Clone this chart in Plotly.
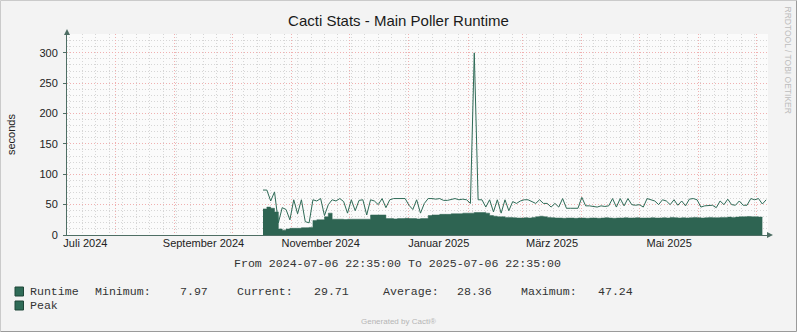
import plotly.graph_objects as go
import pandas as pd

# ---------------- data ----------------
range_start = "2024-07-06 22:35:00"
range_end = "2025-07-06 22:35:00"
series_start = "2024-10-17"
step_days = 2

runtime = [
    43, 46, 44, 38, 10, 8, 10, 11, 11, 11, 12, 12, 12.5,
    24, 25, 25, 30, 36, 26, 26, 26, 25.5, 26, 26, 26, 26, 26, 26,
    33, 33, 33, 33,
    27, 27, 26.5, 27, 27, 27.5, 27, 27, 26.5, 27, 27,
    32, 33, 33, 34, 34, 34, 35, 35, 35, 36, 36, 36, 37, 37, 37, 36,
    32, 31, 30, 30, 29, 29, 28.5,
    28, 28, 28.5, 28, 29, 30, 31, 30, 29, 28.5, 28, 28, 27.5, 28, 28,
    27.5, 28, 28, 27.5, 28, 28, 27.5, 28, 28.5, 28, 27.5, 28, 28, 28.5,
    28, 28, 28.5, 28, 28,
    28, 28.5, 28, 28, 28.5, 28, 29, 28.5, 28, 28.5, 28, 28.5, 29, 28.5,
    28, 28.5, 29, 28.5, 28.5, 29, 29, 29.5, 29, 29.5, 30, 30, 30.5, 30,
    30, 29.5, 29.71,
]

peak = [
    74, 74, 56, 71, 20, 45, 42, 25, 58, 35, 58, 22, 20, 58, 56, 60,
    32, 50, 58, 56, 60, 55, 36, 58, 40, 57, 58, 33, 58, 56, 50, 60,
    45, 58, 60, 60, 59, 60, 49, 42, 58, 36, 52, 60, 60, 59, 60, 57,
    57, 59, 60, 58, 59, 58, 52, 300, 58, 58, 46, 58, 38, 58, 36, 58,
    40, 55, 52,
    56, 58, 58, 55, 52, 58, 52, 52, 46, 52, 46, 60, 44, 44, 44, 44,
    62, 48, 48, 47, 46, 48, 47, 48, 60, 46, 60, 48, 60, 50, 49, 50,
    46, 60,
    58, 56, 50, 58, 56, 50, 58, 49, 56, 48, 59, 60, 58, 46, 48, 48,
    49, 45, 56, 50, 59, 50, 49, 56, 49, 49, 60, 58, 60, 51, 58,
]

month_label_dates = ["2024-07-16 12:00", "2024-09-16 00:00", "2024-11-16 00:00",
                     "2025-01-16 12:00", "2025-03-16 12:00", "2025-05-16 12:00"]
month_labels = ["Juli 2024", "September 2024", "November 2024",
                "Januar 2025", "März 2025", "Mai 2025"]

stat_names = ["Minimum:", "Current:", "Average:", "Maximum:"]
stat_values = ["7.97", "29.71", "28.36", "47.24"]

title = "Cacti Stats - Main Poller Runtime"
y_title = "seconds"

dates = pd.date_range(series_start, periods=len(peak), freq=f"{step_days}D")

# ---------------- style ----------------
W, H = 797, 332
L, R, T, B = 67, 29, 34, 97
PW = W - L - R
PH = H - T - B
AREA_COLOR = "#2E6452"
LINE_COLOR = "#2F6B57"
AXIS_COLOR = "#4E6E64"
MAJOR_GRID = "#F0B0B0"
MINOR_GRID = "#D6D6D6"
TXT = "#222222"
DOT = "1px,2px"


def px(x):
    return (x - L) / PW


def py(y):
    return (H - B - y) / PH


fig = go.Figure()
fig.add_trace(go.Scatter(
    x=dates[:len(runtime)], y=runtime, mode="lines",
    line=dict(color=AREA_COLOR, width=0.5, shape="hv"),
    fill="tozeroy", fillcolor=AREA_COLOR, name="Runtime", showlegend=False,
    hoverinfo="skip"))
fig.add_trace(go.Scatter(
    x=dates, y=peak, mode="lines", line=dict(color=LINE_COLOR, width=1),
    name="Peak", showlegend=False, xaxis="x2", hoverinfo="skip"))

fig.update_layout(
    width=W, height=H,
    margin=dict(l=L, r=R, t=T, b=B, pad=0),
    paper_bgcolor="#F3F3F3",
    plot_bgcolor="#FBFBFB",
    font=dict(family="Liberation Sans, Arial, sans-serif", size=11, color=TXT),
    title=dict(text=title, x=0.5, xref="container", xanchor="center",
               y=1 - 21 / H, yref="container", yanchor="middle",
               font=dict(size=15, color="#1A1A1A")),
    xaxis=dict(
        type="date", range=[range_start, range_end], showticklabels=False,
        ticks="", tick0="2024-08-01", dtick="M1",
        showgrid=True, gridcolor=MAJOR_GRID, griddash=DOT, gridwidth=1,
        minor=dict(dtick=7 * 86400000, tick0="2024-07-15", showgrid=True,
                   gridcolor=MINOR_GRID, griddash=DOT, gridwidth=1),
        showline=True, linecolor=AXIS_COLOR, linewidth=1, zeroline=False,
        fixedrange=True,
    ),
    xaxis2=dict(
        type="date", range=[range_start, range_end], overlaying="x",
        side="bottom", tickmode="array", tickvals=month_label_dates,
        ticktext=month_labels, showgrid=False, ticks="", showline=False,
        tickfont=dict(size=11, color=TXT), ticklabelstandoff=0,
    ),
    yaxis=dict(
        range=[0, 331], tick0=0, dtick=50, showgrid=True, gridcolor=MAJOR_GRID,
        griddash=DOT, gridwidth=1,
        minor=dict(dtick=10, showgrid=True, gridcolor=MINOR_GRID, griddash=DOT,
                   gridwidth=1),
        ticks="outside", ticklen=3, tickcolor=AXIS_COLOR,
        showline=True, linecolor=AXIS_COLOR, linewidth=1, zeroline=False,
        tickfont=dict(size=11, color=TXT), ticklabelstandoff=3,
    ),
)

shapes = []
# axis arrows
shapes.append(dict(type="path", xref="paper", yref="paper",
                   path=f"M {px(64)} {py(35)} L {px(67)} {py(29)} L {px(70)} {py(35)} Z",
                   fillcolor=AXIS_COLOR, line=dict(width=0)))
shapes.append(dict(type="path", xref="paper", yref="paper",
                   path=f"M {px(767)} {py(232)} L {px(773)} {py(235)} L {px(767)} {py(238)} Z",
                   fillcolor=AXIS_COLOR, line=dict(width=0)))
# legend squares
for yc in (291.5, 305.5):
    shapes.append(dict(type="rect", xref="paper", yref="paper",
                       x0=px(15), x1=px(23.5), y0=py(yc - 4.5), y1=py(yc + 4.5),
                       fillcolor=LINE_COLOR, line=dict(color="#1F4638", width=1)))
# outer frame
shapes.append(dict(type="line", xref="paper", yref="paper", x0=px(0.5), x1=px(796.5),
                   y0=py(0.5), y1=py(0.5), line=dict(color="#CACACA", width=1)))
shapes.append(dict(type="line", xref="paper", yref="paper", x0=px(0.5), x1=px(0.5),
                   y0=py(0.5), y1=py(331.5), line=dict(color="#CACACA", width=1)))
shapes.append(dict(type="line", xref="paper", yref="paper", x0=px(0.5), x1=px(796.5),
                   y0=py(331.5), y1=py(331.5), line=dict(color="#9A9A9A", width=1)))
shapes.append(dict(type="line", xref="paper", yref="paper", x0=px(796.5), x1=px(796.5),
                   y0=py(0.5), y1=py(331.5), line=dict(color="#9A9A9A", width=1)))
fig.update_layout(shapes=shapes)

MONO = "Liberation Mono, Courier New, monospace"
ann = []
ann.append(dict(text=y_title, xref="paper", yref="paper", x=px(11), y=py(135),
                textangle=-90, showarrow=False, font=dict(size=11, color=TXT),
                xanchor="center", yanchor="middle"))
ann.append(dict(text="From 2024-07-06 22:35:00 To 2025-07-06 22:35:00",
                xref="paper", yref="paper", x=px(397), y=py(263), showarrow=False,
                font=dict(family=MONO, size=11.6, color="#333333"),
                xanchor="center", yanchor="middle"))
legend_items = [("Runtime", 30, 291.5), ("Peak", 30, 305.5)]
for txt, xx, yy in legend_items:
    ann.append(dict(text=txt, xref="paper", yref="paper", x=px(xx - 2), y=py(yy),
                    showarrow=False, font=dict(family=MONO, size=11.6, color="#333333"),
                    xanchor="left", yanchor="middle"))
name_x = [95, 237, 383, 521]
val_x = [180, 314, 457, 598]
for nm, vl, nx, vx in zip(stat_names, stat_values, name_x, val_x):
    ann.append(dict(text=nm, xref="paper", yref="paper", x=px(nx - 2), y=py(291.5),
                    showarrow=False, font=dict(family=MONO, size=11.6, color="#333333"),
                    xanchor="left", yanchor="middle"))
    ann.append(dict(text=vl, xref="paper", yref="paper", x=px(vx - 2), y=py(291.5),
                    showarrow=False, font=dict(family=MONO, size=11.6, color="#333333"),
                    xanchor="left", yanchor="middle"))
ann.append(dict(text="Generated by Cacti®", xref="paper", yref="paper", x=px(398),
                y=py(321), showarrow=False, font=dict(size=8, color="#B5B5B5"),
                xanchor="center", yanchor="middle"))
ann.append(dict(text="RRDTOOL / TOBI OETIKER", xref="paper", yref="paper", x=px(788),
                y=py(5), textangle=90, showarrow=False,
                font=dict(size=8.5, color="#BDBDBD"), xanchor="center", yanchor="top"))
fig.update_layout(annotations=ann)

fig.write_html("out.html")
